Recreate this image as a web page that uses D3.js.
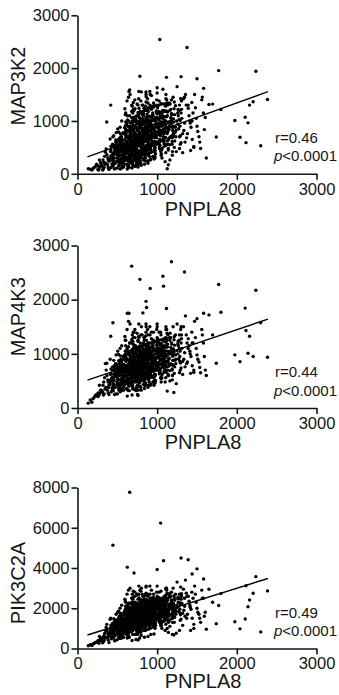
<!DOCTYPE html>
<html><head><meta charset="utf-8">
<script src="https://cdn.jsdelivr.net/npm/d3@7"></script>
<style>html,body{margin:0;padding:0;background:#fff}</style>
</head><body>
<svg id="chart" width="339" height="695"></svg>
<script>
// ---- DATA (values read/estimated from the reference) ----
const xTicks = [0, 1000, 2000, 3000];
const yTicks3000 = [0, 1000, 2000, 3000];
const yTicks8000 = [0, 2000, 4000, 6000, 8000];
const xTitle = "PNPLA8";
const geneNames = ["MAP3K2", "MAP4K3", "PIK3C2A"];
const rLabels = ["r=0.46", "r=0.44", "r=0.49"];
const pLabel = "<0.0001";
const fitX = [125, 2390];
const fitMap3k2 = [320, 1555];
const fitMap4k3 = [515, 1640];
const fitPik3c2a = [670, 3480];

const pnpla8 = [
135,260,180,290,210,160,240,275,195,225,
285,320,255,340,300,270,330,310,350,265,
345,380,325,360,395,335,370,315,385,355,
405,385,420,395,430,375,410,440,390,415,
425,445,410,455,435,420,465,440,415,450,
470,450,485,460,440,475,495,455,480,465,
495,480,510,470,500,520,485,505,475,515,
525,510,535,500,545,515,530,505,540,520,
545,530,555,520,560,535,550,525,565,540,
565,550,575,545,580,555,570,540,585,560,
585,570,595,565,600,575,590,560,605,580,
605,590,615,585,620,595,610,580,625,600,
612,598,628,592,618,604,634,588,622,608,
625,610,635,605,640,615,630,600,645,620,
645,630,655,625,660,635,650,620,665,640,
665,650,675,645,680,655,670,640,685,660,
672,658,688,652,678,664,694,648,682,668,
685,670,695,665,700,675,690,660,705,680,
705,690,715,685,720,695,710,680,725,700,
712,698,728,692,718,704,734,688,722,708,
725,710,735,705,740,715,730,700,745,720,
732,718,748,712,738,724,754,708,742,728,
745,730,755,725,760,735,750,720,765,740,
765,750,775,745,780,755,770,740,785,760,
772,758,788,752,778,764,794,748,782,768,
785,770,795,765,800,775,790,760,805,780,
792,778,808,772,798,784,814,768,802,788,
805,790,815,785,820,795,810,780,825,800,
825,810,835,805,840,815,830,800,845,820,
832,818,848,812,838,824,854,808,842,828,
845,830,855,825,860,835,850,820,865,840,
852,838,868,832,858,844,874,828,862,848,
865,850,875,845,880,855,870,840,885,860,
885,870,895,865,900,875,890,860,905,880,
892,878,908,872,898,884,914,868,902,888,
905,890,915,885,920,895,910,880,925,900,
912,898,928,892,918,904,934,888,922,908,
935,920,945,915,950,925,940,910,955,930,
952,938,968,932,958,944,974,928,962,948,
965,950,975,945,980,955,970,940,985,960,
972,958,988,952,978,964,994,948,982,968,
995,980,1005,975,1010,985,1000,970,1015,990,
1025,1005,1040,1000,1045,1015,1035,995,1050,1020,
1042,1028,1058,1022,1048,1034,1064,1018,1052,1038,
1055,1035,1070,1030,1075,1045,1065,1025,1080,1050,
1085,1065,1100,1060,1105,1075,1095,1055,1110,1080,
1102,1088,1118,1082,1108,1094,1124,1078,1112,1098,
1115,1095,1130,1090,1135,1105,1125,1085,1140,1110,
1155,1130,1170,1125,1180,1140,1165,1120,1185,1150,
1182,1168,1198,1162,1188,1174,1204,1158,1192,1178,
1205,1180,1220,1175,1230,1190,1215,1170,1235,1200,
1265,1235,1280,1230,1290,1245,1275,1225,1295,1260,
1335,1300,1350,1310,1365,1320,1345,1305,1370,1330,
1425,1390,1440,1400,1460,1410,1435,1380,1450,1415,
1525,1480,1545,1490,1560,1500,1535,1470,1580,1510,
2385,2300,2239,2205,2160,2140,2115,2105,2040,1975,
1800,1772,1742,1696,1650,1617,1604,1592,1583,1567,
1033,1375,783,1117,1300,1500,680,1180,1072,1343,
1080,913,860,867,821,445,625,646,655,1043,
1209,1126,1000,709,1389,1439,417,367,1250,1355,
1140,1240,1280,1160,1420,1460,1320,1190,1100,1060,
455,440,462,448,470,436,458,444,466,452,
505,492,512,498,520,486,508,495,516,502,
535,522,542,528,548,518,538,526,545,532,
565,552,572,558,578,548,568,555,575,562,
595,582,602,588,608,578,598,585,605,592,
625,612,632,618,638,608,628,615,635,622,
655,642,662,648,668,638,658,645,665,652,
675,662,682,668,688,658,678,665,685,672,
695,682,702,688,708,678,698,685,705,692,
715,702,722,708,728,698,718,705,725,712,
735,722,742,728,748,718,738,725,745,732,
755,742,762,748,768,738,758,745,765,752,
775,762,782,768,788,758,778,765,785,772,
795,782,802,788,808,778,798,785,805,792,
815,802,822,808,828,798,818,805,825,812,
835,822,842,828,848,818,838,825,845,832,
855,842,862,848,868,838,858,845,865,852,
875,862,882,868,888,858,878,865,885,872,
895,882,902,888,908,878,898,885,905,892,
915,902,922,908,928,898,918,905,925,912,
935,922,942,928,948,918,938,925,945,932,
955,942,962,948,968,938,958,945,965,952,
985,972,992,978,998,968,988,975,995,982,
1015,1002,1022,1008,1028,998,1018,1005,1025,1012,
1045,1032,1052,1038,1058,1028,1048,1035,1055,1042,
1075,1062,1082,1068,1088,1058,1078,1065,1085,1072,
1105,1092,1112,1098,1118,1088,1108,1095,1115,1102,
1145,1132,1152,1138,1158,1128,1148,1135,1155,1142,
1205,1192,1212,1198,1218,1188,1208,1195,1215,1202,
1285,1262,1292,1278,1300,1258,1288,1270,1305,1282
];

const map3k2 = [
95,150,70,210,120,85,180,260,100,140,
130,260,80,330,170,100,220,150,410,70,
180,300,90,470,240,120,360,70,260,200,
240,130,520,80,350,180,660,300,100,420,
120,380,280,720,180,450,90,560,330,240,
420,160,780,300,520,100,380,250,640,200,
240,600,340,430,110,550,380,850,200,470,
670,410,90,500,290,790,230,430,590,150,
700,430,110,540,320,880,250,620,470,200,
250,680,380,520,130,1000,440,760,320,580,
760,260,540,150,910,380,500,640,1150,320,
420,870,180,640,310,1230,520,760,90,560,
690,330,1020,250,480,800,140,560,1380,420,
300,740,470,980,150,600,390,1120,230,820,
820,420,1100,260,560,700,120,950,350,1450,
480,880,200,660,1180,340,760,1000,110,560,
380,740,1280,280,620,900,180,520,1060,440,
880,460,150,700,1060,320,620,1500,540,230,
500,960,280,720,140,1150,600,820,360,1350,
780,420,1040,240,650,880,160,560,1230,470,
310,760,520,990,180,670,430,1220,250,880,
900,520,1320,340,680,770,140,1060,420,600,
560,990,260,740,1160,400,850,1400,180,650,
380,820,1060,220,700,560,1560,470,920,130,
720,430,1180,300,860,600,200,1000,520,1420,
600,1080,340,820,160,950,700,1300,460,780,
880,280,660,1240,520,1000,380,720,1550,240,
500,860,1120,320,720,1380,600,200,950,420,
820,460,1240,620,260,980,740,1050,350,560,
1000,580,380,1300,700,820,240,920,480,1140,
640,1100,300,860,1360,520,760,420,960,180,
780,1200,540,360,900,660,1030,260,1460,440,
460,880,1080,300,760,1280,620,960,200,680,
560,1020,820,1200,330,700,900,1500,460,760,
920,380,660,1130,530,1340,260,800,1010,600,
700,1180,400,860,280,1020,560,1420,780,950,
500,880,1220,360,800,650,1070,250,940,1560,
850,470,1150,650,330,990,780,1300,560,920,
1260,620,430,900,1030,740,300,1480,830,540,
700,1100,500,900,380,1340,760,600,1000,280,
940,560,1190,420,800,680,1400,330,1060,760,
600,1000,1250,440,870,720,1530,330,960,560,
1020,590,780,1280,450,900,1130,680,350,840,
720,1060,460,900,1330,600,820,1180,380,960,
900,540,1200,760,1040,420,640,1380,850,980,
680,1100,830,480,1280,980,560,920,1420,760,
1000,620,1180,800,400,920,1340,700,540,1080,
780,1180,560,960,1300,690,880,1080,450,1500,
900,620,1220,760,1050,480,980,1400,680,840,
1120,700,880,1320,560,1000,780,1200,420,950,
760,1140,620,1000,1290,880,500,1060,820,1450,
1100,700,1300,880,560,1000,1200,780,1420,940,
820,1150,600,1050,1300,760,960,1220,680,1420,
880,1240,650,1100,500,1000,1350,760,1150,960,
700,1250,480,1050,1400,900,600,1500,1150,800,
1407,532,1940,1363,1300,964,590,1071,691,1008,
1217,1953,697,1319,1312,298,1065,837,1617,1452,
2543,2390,1845,1826,1839,1800,1300,1400,1600,1450,
1200,1500,1550,1000,1300,700,1100,1560,1585,1100,
700,95,1630,1200,1300,1000,1300,980,1650,1500,
170,420,480,260,440,520,400,350,230,300,
400,190,530,300,450,140,360,250,490,280,
350,600,250,470,160,560,420,300,650,380,
520,280,690,410,600,220,460,350,640,180,
420,700,300,560,150,650,500,360,780,250,
580,330,760,470,680,200,520,400,850,300,
450,780,300,620,170,720,560,380,900,260,
650,370,880,520,780,240,600,430,960,330,
500,850,340,660,210,780,600,430,1000,300,
700,380,920,560,830,260,640,460,1050,350,
540,900,370,700,240,820,650,480,1080,320,
740,400,960,590,860,290,680,510,1100,390,
580,950,400,740,270,880,690,520,1120,360,
780,440,1000,630,900,320,720,540,1150,420,
620,980,440,770,300,910,720,560,1160,380,
820,480,1040,670,940,360,760,580,1180,460,
660,1020,480,800,340,950,760,600,1200,420,
850,520,1060,700,960,400,790,610,1220,500,
690,1050,510,830,380,980,800,640,1240,460,
880,550,1090,730,990,430,820,640,1250,540,
720,1080,540,860,410,1010,830,670,1270,500,
910,580,1120,760,1010,460,850,670,1280,570,
750,1100,570,890,440,1040,860,700,1290,540,
940,610,1150,790,1040,490,880,700,1300,600,
790,1130,610,920,480,1060,900,740,1300,580,
970,650,1170,830,1060,530,910,740,1320,640,
820,1150,650,950,520,1080,930,770,1320,620,
1000,690,1190,860,1080,570,940,780,1330,680,
850,1170,680,980,550,1100,960,800,1340,650,
1040,730,1230,900,1120,610,980,820,1360,720,
900,1220,720,1030,590,1150,1010,850,1380,700
];

const map4k3 = [
90,280,105,330,200,150,250,420,170,230,
280,420,210,560,330,250,480,300,820,230,
350,520,240,700,420,260,600,300,480,380,
430,280,720,250,560,330,900,500,380,620,
300,560,480,880,360,640,250,760,520,420,
620,320,980,520,700,260,580,440,820,380,
430,820,520,640,260,760,580,1050,380,680,
880,620,300,720,480,990,420,640,800,350,
900,630,320,750,500,1100,430,820,680,360,
420,880,570,710,330,1150,640,960,500,780,
950,450,730,350,1050,560,680,820,1250,500,
600,980,360,800,500,1320,700,900,220,740,
880,520,1120,430,680,960,330,740,1450,600,
480,920,660,1150,330,780,560,1250,400,1000,
980,620,1200,450,730,880,320,1080,560,1600,
660,1050,420,820,1260,540,900,1130,240,740,
560,900,1350,470,780,1040,350,700,1200,620,
1030,660,380,880,1180,520,790,1550,720,450,
680,1080,500,860,340,1230,770,950,560,1400,
920,580,1150,430,800,1000,320,700,1300,650,
480,900,680,1100,330,810,600,1300,400,1020,
1020,660,1380,500,820,900,250,1150,560,740,
700,1080,420,880,1230,560,960,1450,330,790,
540,950,1140,380,820,690,1550,620,1010,230,
830,600,1200,480,950,740,380,1080,660,1320,
720,1100,500,900,330,1050,820,1250,580,880,
960,460,800,1300,680,1060,540,840,1500,400,
640,960,1150,500,840,1350,720,400,1020,560,
900,600,1300,760,420,1040,820,1120,480,700,
1080,720,540,1350,820,920,420,1000,640,1200,
750,1150,460,940,1400,660,860,560,1050,360,
860,1250,660,500,980,760,1100,440,1500,600,
600,960,1150,460,850,1330,720,1040,380,780,
700,1100,900,1250,480,800,960,1550,620,850,
1000,540,820,1180,680,1350,420,900,1080,740,
820,1200,560,940,440,1080,720,1450,880,1000,
650,960,1280,520,900,780,1120,420,1000,1500,
920,620,1200,760,480,1040,870,1350,700,980,
1250,740,580,980,1080,840,460,1400,920,680,
800,1150,620,960,500,1400,860,720,1050,420,
1000,700,1230,560,900,800,1450,480,1100,860,
750,1080,1280,600,940,840,1550,520,1020,700,
1080,700,880,1300,560,950,1160,780,480,920,
800,1100,620,960,1350,700,900,1200,540,1020,
960,660,1250,820,1100,560,760,1400,920,1050,
820,1150,940,620,1300,1040,700,980,1450,880,
1060,760,1250,900,560,1000,1380,820,660,1150,
860,1220,700,1040,1350,800,960,1120,600,1500,
1000,760,1300,860,1100,620,1040,1450,800,920,
1180,820,980,1380,700,1050,880,1250,600,1020,
880,1200,760,1050,1350,960,640,1120,900,1500,
1150,820,1350,980,700,1060,1250,880,1450,1000,
900,1200,760,1100,1350,860,1020,1280,820,1500,
950,1280,780,1150,660,1050,1400,850,1200,1000,
850,1300,650,1100,1450,980,750,1600,1200,900,
937,1575,2175,950,1325,1012,1431,1844,856,981,
1769,2281,825,1350,1719,600,700,950,1750,1350,
1100,1200,2375,1838,1500,1650,2619,2700,2431,2512,
2250,2206,1969,1856,1756,1575,1750,1750,1200,1400,
287,312,1500,1400,1100,1200,1325,825,1550,1700,
600,450,650,500,640,700,620,520,480,560,
620,380,780,520,690,320,580,450,740,500,
540,800,420,650,330,760,620,480,870,560,
710,450,880,600,790,380,660,520,830,420,
600,860,480,740,390,820,690,550,950,520,
770,500,950,650,860,430,720,580,1000,480,
650,920,520,790,430,880,740,600,1020,560,
830,550,1000,700,910,470,770,620,1050,540,
680,960,560,830,470,910,780,640,1080,600,
860,570,1030,730,930,490,800,650,1100,560,
700,980,580,850,490,930,800,660,1100,620,
880,590,1050,750,950,510,820,670,1120,580,
720,1000,600,870,510,950,820,680,1120,640,
900,610,1070,770,970,530,840,690,1140,600,
740,1020,620,890,530,970,840,700,1140,660,
920,630,1090,790,990,550,860,710,1160,620,
760,1040,640,910,550,990,860,720,1160,680,
940,650,1110,810,1010,570,880,730,1180,640,
780,1060,660,930,570,1010,880,740,1180,700,
960,670,1130,830,1030,590,900,750,1200,660,
800,1080,680,950,590,1030,900,760,1200,720,
980,690,1150,850,1050,610,920,770,1220,680,
820,1100,700,970,610,1050,920,780,1220,740,
1000,710,1170,870,1070,630,940,790,1240,700,
840,1120,720,990,630,1070,940,800,1250,760,
1020,730,1190,890,1090,650,960,810,1260,720,
870,1150,750,1020,660,1100,970,830,1280,790,
1050,760,1220,920,1120,680,990,840,1290,750,
900,1180,780,1050,690,1130,1000,860,1300,820,
1090,800,1260,960,1160,720,1030,880,1320,790,
950,1230,830,1100,740,1180,1050,910,1350,870
];

const pik3c2a = [
135,400,150,520,260,190,330,600,220,300,
400,560,300,750,430,260,620,480,900,350,
520,780,330,1050,620,400,900,280,700,560,
680,420,1150,300,850,520,1450,760,600,950,
480,920,780,1480,560,1050,380,1250,880,700,
1020,520,1700,880,1180,400,980,760,1380,620,
760,1420,900,1120,450,1300,1000,1800,640,1200,
1600,1100,500,1260,850,1850,740,1150,1420,600,
1650,1160,520,1330,880,2000,760,1480,1220,640,
800,1600,1000,1300,560,2150,1180,1750,900,1420,
1780,820,1340,600,1960,1050,1250,1500,2300,950,
1150,1850,700,1520,980,2450,1320,1680,520,1400,
1650,1000,2150,850,1280,1800,620,1400,2700,1150,
900,1720,1260,2100,640,1500,1120,2350,780,1900,
1900,1150,2250,800,1450,1700,560,2000,1000,2900,
1300,2050,850,1600,2500,1080,1750,2250,400,1450,
1100,1760,2700,950,1520,2000,700,1350,2300,1200,
2000,1300,700,1700,2300,1000,1550,3000,1400,850,
1350,2150,950,1720,700,2450,1550,1900,1100,2850,
1850,1200,2300,900,1600,2000,450,1450,2600,1300,
1050,1850,1400,2250,720,1600,1300,2550,900,2050,
2000,1400,2700,1150,1650,1800,700,2200,1250,1500,
1450,2150,1000,1750,2450,1200,1900,2800,800,1600,
1150,1900,2300,850,1650,1400,3100,1300,2050,420,
1700,1250,2450,1000,1950,1500,800,2200,1400,2700,
1500,2250,1000,1800,650,2050,1650,2650,1200,1900,
2000,950,1600,2500,1350,2150,1100,1700,3000,900,
1300,1950,2400,1000,1700,2850,1500,520,2100,1150,
1850,1250,2600,1600,900,2150,1750,2300,1050,1450,
2150,1500,1150,2700,1700,1900,900,2050,1300,2400,
1600,2300,1050,1900,2750,1400,1750,1250,2100,560,
1800,2450,1450,1100,2000,1650,2250,900,3100,1300,
1250,1950,2350,1000,1750,2650,1500,2100,600,1600,
1450,2200,1850,2450,1100,1650,2000,3050,1300,1750,
2050,1250,1700,2300,1450,2600,1000,1850,2150,1550,
1650,2350,1200,1950,700,2150,1450,2700,1800,2050,
1350,1950,2500,1150,1850,1600,2250,950,2050,3100,
1900,1300,2400,1600,1050,2150,1800,2700,1450,2000,
2550,1600,1250,2000,2200,1700,1000,2900,1850,1400,
1700,2350,1350,2000,1150,2700,1850,1500,2200,720,
2100,1450,2450,1250,1850,1650,2800,1100,2300,1750,
1500,2150,2550,1250,1950,1700,3100,1050,2100,1400,
2250,1500,1850,2600,1250,2000,2400,1650,1100,1950,
1700,2350,1350,2000,2850,1550,1900,2500,1150,2150,
2000,1400,2500,1800,2300,1200,1600,2800,1950,2150,
1650,2350,1950,1300,2650,2100,1500,2000,2950,1800,
2150,1550,2500,1800,1200,2050,2750,1700,1450,2300,
1800,2450,1500,2050,2700,1650,1950,2250,1300,3000,
2050,1600,2600,1800,2300,1350,2150,2900,1700,1950,
2400,1700,2000,2750,1500,2200,1850,2550,1300,2100,
1800,2400,1550,2150,2700,1950,1300,2250,1850,3000,
2300,1700,2700,1950,1400,2150,2500,1800,3050,2050,
1900,2450,1600,2250,2750,1750,2100,2600,1500,2950,
1950,2600,1500,2350,1200,2150,2800,1700,2500,2050,
1700,2700,1300,2300,2900,2000,1500,3100,2500,1800,
2863,825,3570,2745,2408,2071,3115,1465,977,1330,
2728,2139,1229,2300,2947,960,1800,1600,3452,2500,
2400,2600,2900,3000,4496,3957,2200,2800,2500,2500,
4362,2500,2700,2300,2600,5136,4042,2000,7763,6231,
673,1000,3924,3755,4412,3705,1500,1200,3300,3400,
800,760,900,1100,900,1000,1150,700,900,1000,
1060,650,1330,880,1180,550,990,760,1250,840,
940,1400,740,1150,580,1330,1090,840,1500,960,
1280,820,1570,1060,1400,700,1190,940,1480,750,
1100,1580,880,1360,730,1500,1270,1000,1720,950,
1440,940,1750,1210,1570,800,1340,1070,1660,870,
1230,1750,1000,1500,820,1680,1420,1130,1900,1080,
1590,1050,1930,1340,1730,900,1490,1200,1830,990,
1320,1870,1080,1620,900,1800,1520,1230,2020,1160,
1650,1100,2000,1400,1800,950,1550,1250,1900,1050,
1400,1970,1150,1720,960,1900,1600,1300,2130,1240,
1750,1190,2110,1500,1910,1040,1650,1350,2010,1150,
1460,2050,1210,1790,1010,1970,1670,1370,2200,1300,
1810,1240,2170,1550,1970,1080,1710,1400,2070,1200,
1520,2100,1270,1850,1060,2030,1730,1430,2260,1360,
1870,1300,2230,1610,2030,1140,1770,1460,2130,1260,
1580,2160,1320,1900,1110,2080,1790,1480,2320,1420,
1920,1340,2280,1660,2070,1190,1810,1500,2180,1310,
1630,2210,1370,1950,1160,2130,1840,1530,2370,1470,
1970,1400,2330,1710,2120,1240,1860,1560,2230,1360,
1680,2260,1420,2000,1210,2180,1890,1580,2420,1520,
2020,1440,2380,1760,2170,1290,1910,1600,2280,1410,
1720,2300,1460,2040,1250,2220,1930,1620,2460,1560,
2070,1500,2430,1810,2230,1340,1970,1660,2330,1460,
1780,2370,1520,2100,1310,2290,1990,1690,2520,1630,
2120,1540,2480,1860,2270,1390,2010,1700,2380,1500,
1830,2410,1570,2150,1360,2330,2040,1730,2570,1680,
2170,1590,2530,1910,2320,1440,2060,1750,2430,1550,
1880,2460,1620,2200,1410,2380,2090,1780,2620,1730,
2240,1650,2620,1970,2400,1490,2130,1810,2510,1600,
1950,2550,1680,2290,1460,2470,2170,1840,2720,1780
];

// ---- LAYOUT ----
const svg = d3.select("#chart");
const FONT = "'Liberation Sans', Arial, Helvetica, sans-serif";
const INK = "#151515";
const xLeft = 77.5, xRight = 316.5;

const panels = [
  {y: map3k2, name: geneNames[0], max: 3000, ticks: yTicks3000, top: 15.3, bottom: 173.8, fit: fitMap3k2, r: rLabels[0], titleY: 86, xTitleDy: 42},
  {y: map4k3, name: geneNames[1], max: 3000, ticks: yTicks3000, top: 245.5, bottom: 408, fit: fitMap4k3, r: rLabels[1], titleY: 316.7, xTitleDy: 41},
  {y: pik3c2a, name: geneNames[2], max: 8000, ticks: yTicks8000, top: 487.5, bottom: 648.5, fit: fitPik3c2a, r: rLabels[2], titleY: 583, xTitleDy: 39.5}
];

const x = d3.scaleLinear().domain([0, 3000]).range([xLeft, xRight]);

panels.forEach(p => {
  const y = d3.scaleLinear().domain([0, p.max]).range([p.bottom, p.top]);
  const g = svg.append("g");

  g.append("g").selectAll("circle")
    .data(pnpla8.map((v, i) => [v, p.y[i]]).filter(d => d[1] != null))
    .join("circle")
    .attr("cx", d => x(d[0]))
    .attr("cy", d => y(d[1]))
    .attr("r", 1.7)
    .attr("fill", "#000");

  const line = d3.line().x(d => x(d[0])).y(d => y(d[1]));
  g.append("path")
    .attr("d", line(fitX.map((v, i) => [v, p.fit[i]])))
    .attr("fill", "none").attr("stroke", "#000").attr("stroke-width", 1.4);

  const ay = g.append("g").attr("transform", `translate(${xLeft},0)`)
    .call(d3.axisLeft(y).tickValues(p.ticks).tickSize(6).tickSizeOuter(0).tickPadding(2).tickFormat(d3.format("d")));
  const ax = g.append("g").attr("transform", `translate(0,${p.bottom})`)
    .call(d3.axisBottom(x).tickValues(xTicks).tickSize(6).tickSizeOuter(0).tickPadding(3).tickFormat(d3.format("d")));
  [ax, ay].forEach(a => {
    a.select(".domain").attr("stroke", INK).attr("stroke-width", 1.6);
    a.selectAll(".tick line").attr("stroke", INK).attr("stroke-width", 1.6);
    a.selectAll(".tick text").attr("fill", INK).style("font-family", FONT).style("font-size", "16.5px");
  });

  g.append("text")
    .attr("transform", `translate(25,${p.titleY}) rotate(-90)`)
    .attr("text-anchor", "middle")
    .style("font-family", FONT).style("font-size", "20px").attr("fill", INK)
    .text(p.name);
  g.append("text")
    .attr("x", 203).attr("y", p.bottom + p.xTitleDy)
    .attr("text-anchor", "middle")
    .style("font-family", FONT).style("font-size", "20px").attr("fill", INK)
    .text(xTitle);

  g.append("text")
    .attr("x", 275).attr("y", p.bottom - 31)
    .style("font-family", FONT).style("font-size", "15px").attr("fill", INK)
    .text(p.r);
  const pt = g.append("text")
    .attr("x", 274).attr("y", p.bottom - 12.5)
    .style("font-family", FONT).style("font-size", "15px").attr("fill", INK);
  pt.append("tspan").style("font-style", "italic").text("p");
  pt.append("tspan").text(pLabel);
});
</script>
</body></html>
